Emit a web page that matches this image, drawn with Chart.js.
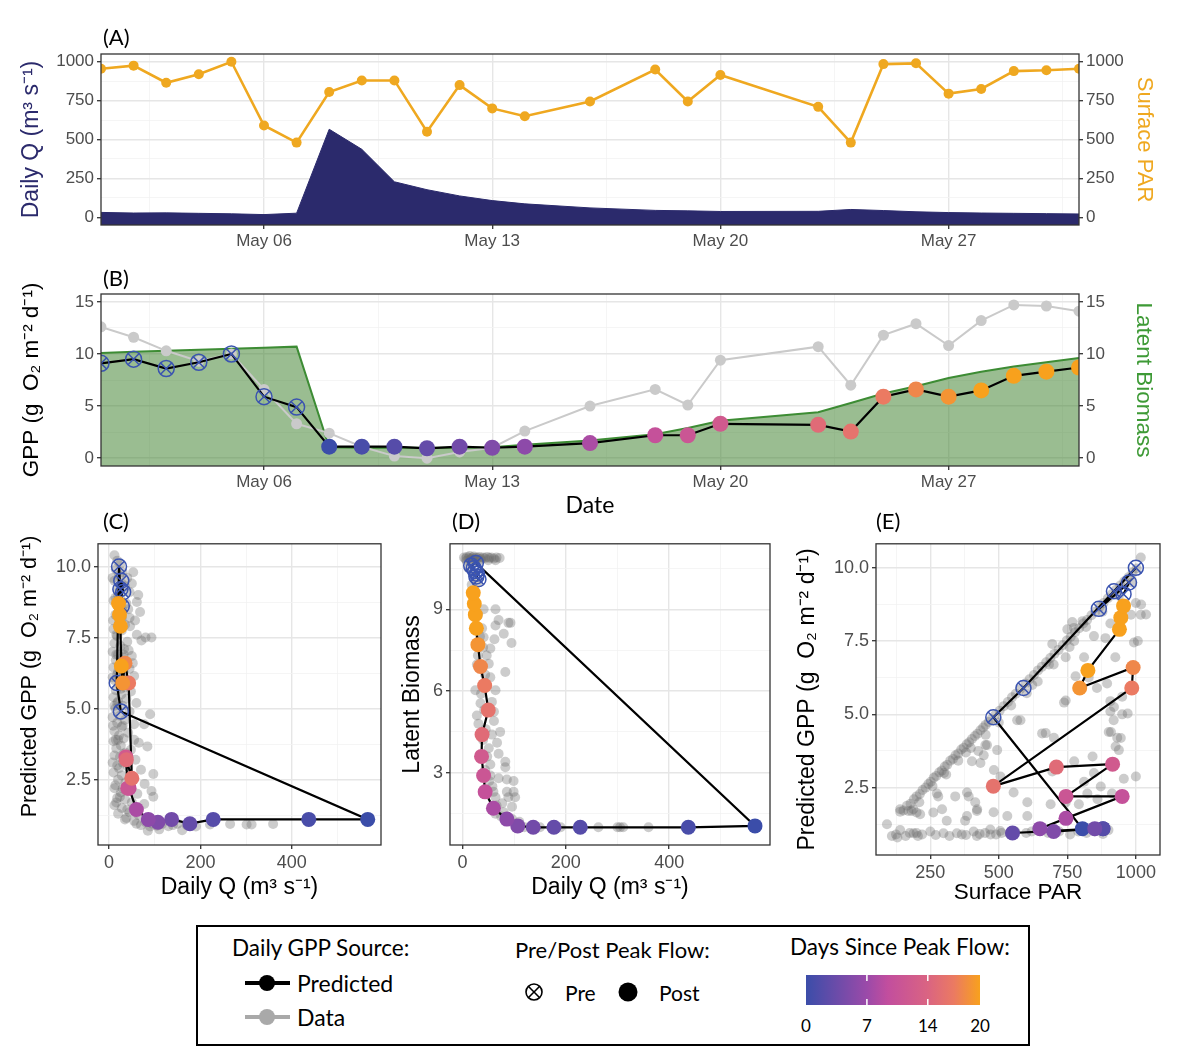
<!DOCTYPE html>
<html>
<head>
<meta charset="utf-8">
<script src="https://cdn.jsdelivr.net/npm/chart.js@4.4.1/dist/chart.umd.min.js"></script>
<style>
  html, body { margin:0; padding:0; background:#ffffff; }
  body { width:1200px; height:1061px; position:relative; overflow:hidden; }
  canvas { position:absolute; }
  .lbl { position:absolute; font-family:Lato, "Liberation Sans", sans-serif; color:#000; white-space:nowrap; transform:translateY(-50%); line-height:1; }
  .ctr { transform:translate(-50%,-50%); }
</style>
</head>
<body>
<canvas id="chartA" width="1200" height="240" style="left:0px;top:20px;"></canvas>
<canvas id="chartB" width="1200" height="250" style="left:0px;top:270px;"></canvas>
<canvas id="chartC" width="400" height="380" style="left:0px;top:530px;"></canvas>
<canvas id="chartD" width="400" height="380" style="left:395px;top:530px;"></canvas>
<canvas id="chartE" width="410" height="380" style="left:790px;top:530px;"></canvas>

<div class="lbl" style="left:103px;top:37px;font-size:22px;">(A)</div>
<div class="lbl" style="left:103px;top:278px;font-size:22px;">(B)</div>
<div class="lbl" style="left:103px;top:521px;font-size:22px;">(C)</div>
<div class="lbl" style="left:452px;top:521px;font-size:22px;">(D)</div>
<div class="lbl" style="left:876px;top:521px;font-size:22px;">(E)</div>

<div id="legendBox" style="position:absolute;left:196px;top:925px;width:834px;height:121px;box-sizing:border-box;border:2px solid #000;"></div>
<svg id="legendSvg" width="834" height="121" style="position:absolute;left:196px;top:925px;"></svg>
<div id="legendText"></div>

<script>
// ---------------- DATA ----------------
const dateTickDays   = [6, 13, 20, 27];
const dateTickLabels = ['May 06', 'May 13', 'May 20', 'May 27'];
const days           = [1,2,3,4,5,6,7,8,9,10,11,12,13,14,16,18,19,20,23,24,25,26,27,28,29,30,31];
const dailyQ         = [31,27,28,25,22,17,26,566,437,228,177,137,107,86,60,44,41,37,38,50,43,35,30,27,25,23,21];
const surfacePAR     = [955,975,865,920,1000,590,480,805,880,880,550,850,700,650,745,950,745,915,710,480,985,990,795,825,940,945,955];
const gppPredicted   = [9.1,9.5,8.6,9.2,10.0,5.9,4.9,1.1,1.1,1.1,0.95,1.1,1.0,1.1,1.45,2.2,2.2,3.3,3.2,2.55,5.9,6.6,5.9,6.5,7.9,8.3,8.7];
const gppData        = [12.6,11.6,10.3,9.3,10.0,6.6,3.3,2.4,1.1,0.2,0.0,0.6,1.0,2.6,5.0,6.6,5.1,9.4,10.7,7.0,11.8,12.9,10.8,13.2,14.7,14.6,14.1];
const latentBiomass  = [10.1,10.2,10.3,10.4,10.5,10.6,10.7,1.05,1.0,1.0,1.0,1.0,1.05,1.3,1.7,2.3,2.9,3.6,4.4,5.3,6.2,6.9,7.7,8.3,8.8,9.2,9.6];
const daysSincePeak  = [null,null,null,null,null,null,null,0,1,2,3,4,5,6,8,10,11,12,15,16,17,18,19,20,21,22,23];
const legendDayTicks = [0, 7, 14, 20];

// background data clouds (other records)
const cloudQGpp = [[12,10.4],[18,10.2],[25,10.1],[15,9.9],[30,9.8],[22,9.7],[40,9.6],[53,9.8],[12,9.5],[28,9.4],[35,9.3],[18,9.2],[45,9.1],[64,9.0],[25,8.9],[10,8.8],[61,8.75],[38,8.7],[20,8.6],[68,8.4],[30,8.45],[14,8.3],[45,8.2],[57,8.1],[22,8.0],[35,7.95],[46,7.9],[10,7.8],[28,7.75],[61,7.6],[18,7.55],[93,7.5],[80,7.5],[71,7.4],[40,7.35],[12,7.3],[25,7.2],[33,7.1],[43,7.05],[8,7.0],[20,6.9],[50,6.85],[30,6.8],[15,6.7],[38,6.6],[24,6.5],[10,6.45],[45,6.4],[32,6.3],[18,6.2],[55,6.15],[28,6.1],[12,6.0],[40,5.95],[22,5.85],[35,5.75],[15,5.65],[48,5.6],[27,5.5],[10,5.4],[38,5.35],[20,5.25],[60,5.2],[30,5.1],[14,5.0],[90,4.8],[45,4.9],[24,4.75],[8,4.7],[35,4.6],[18,4.5],[55,4.45],[77,4.45],[28,4.35],[12,4.2],[42,4.15],[22,4.05],[32,3.95],[10,3.85],[65,3.8],[84,3.67],[26,3.7],[16,3.6],[48,3.55],[36,3.45],[12,3.35],[24,3.3],[58,3.2],[30,3.1],[18,3.0],[42,2.95],[70,2.85],[97,2.7],[10,2.75],[28,2.65],[52,2.55],[20,2.5],[36,2.4],[78,2.35],[14,2.3],[44,2.2],[93,2.1],[26,2.05],[62,2.0],[97,1.9],[18,1.85],[35,1.8],[50,1.7],[77,1.64],[12,1.6],[28,1.5],[20,1.3],[45,1.35],[65,1.25],[38,1.15],[55,1.05],[80,1.0],[95,0.95],[116,0.94],[70,0.9],[105,0.88],[140,0.9],[170,0.9],[190,0.85],[221,0.92],[265,0.94],[301,0.92],[312,0.92],[359,0.94],[130,0.86],[90,0.85],[60,0.95],[150,0.95],[20,9.0],[28,8.2],[16,7.6],[32,6.9],[20,6.3],[26,5.7],[18,5.2],[30,4.4],[20,3.9],[32,3.4],[22,2.9],[30,2.2],[24,1.9],[40,1.45],[110,0.75],[160,0.72],[85,0.7],[8,9.6],[14,8.9],[9,8.1],[16,6.9],[8,6.1],[12,5.1],[9,4.4],[15,3.9],[8,3.1],[12,2.2],[16,1.7],[35,1.1],[48,2.6],[55,3.9],[52,6.6],[42,8.5],[50,9.4]];

const cloudQBiomass = [[3,10.9],[6,10.85],[9,10.92],[12,10.88],[14,10.95],[17,10.85],[19,10.9],[22,10.93],[24,10.86],[27,10.9],[30,10.88],[33,10.92],[36,10.85],[40,10.9],[44,10.87],[48,10.92],[52,10.88],[56,10.9],[61,10.86],[66,10.9],[72,10.88],[8,10.78],[15,10.8],[25,10.78],[35,10.8],[50,10.8],[64,10.8],[12,10.5],[20,10.3],[30,10.0],[18,9.9],[64,9.0],[41,9.0],[93,8.5],[70,8.6],[64,8.4],[89,8.5],[80,8.1],[62,7.9],[95,7.76],[54,7.56],[47,7.3],[41,7.97],[38,8.3],[83,6.7],[51,7.0],[28,6.97],[54,6.5],[25,6.03],[64,6.03],[35,5.55],[57,5.6],[28,5.1],[61,5.24],[31,4.8],[61,4.9],[57,4.4],[73,4.5],[67,4.1],[51,3.9],[70,3.7],[83,3.4],[54,3.3],[83,3.2],[54,2.9],[70,2.8],[86,2.75],[99,2.7],[58,2.5],[86,2.3],[99,2.3],[64,2.1],[89,2.1],[102,2.1],[77,1.88],[96,1.75],[64,1.5],[80,1.55],[96,1.3],[110,1.2],[30,8.8],[34,8.0],[40,7.6],[30,7.3],[44,6.6],[48,6.2],[36,5.9],[42,5.3],[45,4.6],[40,4.2],[48,3.6],[44,3.1],[52,2.7],[60,2.3],[66,1.8],[75,1.4],[120,1.0],[150,1.0],[190,1.0],[263,1.0],[300,1.0],[305,1.0],[311,1.0],[360,1.0]];

const cloudParGpp = [[140,1.68],[152,1.72],[165,1.88],[178,1.95],[190,2.1],[200,2.2],[212,2.28],[222,2.42],[233,2.5],[243,2.62],[252,2.7],[263,2.84],[272,2.9],[283,3.02],[292,3.08],[303,3.22],[312,3.28],[323,3.42],[333,3.48],[342,3.6],[352,3.66],[363,3.8],[372,3.86],[383,3.98],[392,4.05],[402,4.16],[413,4.26],[422,4.34],[433,4.46],[443,4.55],[452,4.64],[463,4.74],[472,4.82],[488,4.99],[503,5.12],[518,5.28],[533,5.42],[548,5.58],[562,5.7],[578,5.86],[597,6.05],[612,6.2],[628,6.34],[643,6.5],[657,6.62],[673,6.78],[688,6.92],[703,7.07],[718,7.2],[733,7.36],[748,7.52],[762,7.64],[778,7.8],[793,7.94],[808,8.1],[822,8.22],[838,8.38],[852,8.5],[868,8.67],[882,8.8],[898,8.96],[912,9.1],[928,9.25],[943,9.4],[958,9.54],[973,9.68],[988,9.84],[1003,9.98],[1018,10.35],
[258,2.55],[308,2.95],[352,3.42],[398,3.85],[425,3.75],[452,4.3],[500,4.72],[545,5.3],[602,5.72],[642,6.12],[700,6.7],[758,7.3],[818,7.98],[878,8.5],[938,9.05],[985,9.5],[210,2.0],[170,1.7],[300,3.0],[380,3.7],
[92,1.25],[110,0.85],[125,0.9],[140,1.05],[160,0.85],[175,0.95],[189,0.94],[205,0.85],[220,0.9],[250,1.0],[270,0.88],[298,0.94],[320,0.85],[347,0.94],[365,0.9],[380,0.88],[408,1.0],[430,0.92],[450,0.95],[469,1.07],[490,0.9],[510,0.95],[540,0.92],[560,1.0],[600,0.95],[620,1.0],[640,1.05],[680,0.95],[720,1.0],[760,0.9],[790,1.0],[820,0.95],[850,1.0],[880,0.92],[900,1.05],[130,0.8],[200,0.95],[420,0.85],[470,0.9],[505,1.02],
[140,1.76],[182,1.7],[200,1.65],[261,1.65],[310,1.37],[377,1.37],[420,1.7],[414,2.0],[390,2.2],[341,2.2],[274,2.3],[402,3.4],[445,3.6],[482,3.1],[451,3.95],[567,4.8],[658,4.35],[701,4.2],[738,5.4],[695,3.05],[775,3.4],[811,2.7],[823,2.3],[860,2.1],[913,2.3],[932,4.2],[926,3.9],[901,4.4],[919,4.8],[950,5.0],[956,2.8],[907,5.1],[907,5.45],[950,5.6],[993,7.45],[1000,8.8],[1018,8.4],[982,8.4],[907,8.1],[889,7.6],[925,6.95],[895,6.05],[858,5.9],[780,6.3],[811,6.95],[744,6.95],[683,6.7],[775,7.5],[750,7.9],[768,8.15],[695,7.4],[622,6.0],[1037,8.41],[1019,8.75],[1007,7.5],[970,5.03],[945,4.19],[938,3.78],[1000,2.88],[909,4.4],[920,5.25],[828,6.26],[847,7.67],[805,8.18],[774,7.95],[744,5.47],[671,4.36],[579,4.8],[457,3.95],[494,3.78],[433,3.34],[506,2.88],[554,2.33],[604,2.0],[689,1.93],[744,1.99],[792,1.93],[872,2.54],[847,3.0],[842,3.56],[384,2.33],[421,1.76],[481,1.66],[531,1.53],[604,1.53],[384,1.53],[293,1.76],[213,1.59],[279,2.2],[188,1.76]];

// ---------------- STYLE ----------------
const FONT = "'Liberation Sans', Arial, sans-serif";
const LEG_FONT = "Lato, 'Liberation Sans', sans-serif";
const MAJOR_GRID = '#E6E6E6', MINOR_GRID = '#F3F3F3';
const NAVY = '#2B2A6C', PAR_COL = '#EFA820', GREEN = '#3D8C34', GREEN_FILL = 'rgba(62,128,44,0.52)';
const DATA_GRAY = '#CACACA', PRE_BLUE = '#3B54B0', CLOUD = 'rgba(105,105,105,0.34)';
const gradStops = [[0,'#3B4DA9'],[0.35,'#9B4AA9'],[0.47,'#C24E9E'],[0.7,'#DA6482'],[0.85,'#EB7A62'],[1,'#F8A11D']];
const DAY_MAX = 20;

function hexToRgb(h){ return [parseInt(h.slice(1,3),16), parseInt(h.slice(3,5),16), parseInt(h.slice(5,7),16)]; }
function gradColor(t){
  t = Math.max(0, Math.min(1, t));
  for (let i = 1; i < gradStops.length; i++) {
    const [t0, c0] = gradStops[i-1], [t1, c1] = gradStops[i];
    if (t <= t1) {
      const f = (t - t0) / (t1 - t0), a = hexToRgb(c0), b = hexToRgb(c1);
      return 'rgb(' + a.map((v,k) => Math.round(v + (b[k]-v)*f)).join(',') + ')';
    }
  }
  return gradStops[gradStops.length-1][1];
}

Chart.defaults.font.family = FONT;
Chart.defaults.animation = false;

function tickList(major, minor){
  return major.map(v => ({value:v})).concat(minor.map(v => ({value:v, minor:true}))).sort((a,b) => a.value - b.value);
}
function makeAxis(o){
  return {
    type:'linear', position:o.position, min:o.min, max:o.max,
    afterBuildTicks: s => { s.ticks = tickList(o.major, o.minor || []); },
    afterFit: s => { if (o.size != null) { if (s.isHorizontal()) s.height = o.size; else s.width = o.size; } },
    grid: {
      display:true, drawOnChartArea: o.gridOn !== false, drawTicks:true, tickLength:4,
      color: c => (c.tick && c.tick.minor) ? MINOR_GRID : MAJOR_GRID,
      lineWidth: c => (c.tick && c.tick.minor) ? 0.8 : 1.4,
      tickColor: c => (c.tick && c.tick.minor) ? 'rgba(0,0,0,0)' : '#333333',
      tickWidth: 1.3
    },
    border: { display:false },
    ticks: {
      autoSkip:false, maxRotation:0, minRotation:0, padding: (o.tickPad != null ? o.tickPad : 3),
      color:'#4D4D4D', font:{ family:FONT, size:o.tickSize || 17 },
      callback: (v, i, t) => { if (t[i] && t[i].minor) return ''; const k = o.major.indexOf(v); return o.labels ? o.labels[k] : String(v); }
    },
    title: {
      display: !!o.title, text: o.title, color: o.titleColor || '#000',
      font: { family: o.titleFont || FONT, size: o.titleSize || 22 },
      padding: { top: o.titlePad || 0, bottom: o.titlePad || 0 }
    }
  };
}
const borderPlugin = {
  id:'panelBorder',
  afterDraw(chart){
    const {ctx, chartArea:a} = chart;
    ctx.save(); ctx.strokeStyle = '#333333'; ctx.lineWidth = 1.3;
    ctx.strokeRect(a.left, a.top, a.right - a.left, a.bottom - a.top);
    ctx.restore();
  }
};
const baseOpts = (padding, scales) => ({
  responsive:false, maintainAspectRatio:false, devicePixelRatio:1, animation:false, events:[],
  layout:{ padding },
  plugins:{ legend:{display:false}, tooltip:{enabled:false} },
  scales
});

const preIdx  = days.map((d,i) => i).filter(i => daysSincePeak[i] === null);
const postIdx = days.map((d,i) => i).filter(i => daysSincePeak[i] !== null);
const postColors = postIdx.map(i => gradColor(daysSincePeak[i] / DAY_MAX));
const pts = (xs, ys, idx) => idx.map(i => ({x:xs[i], y:ys[i]}));
const allIdx = days.map((d,i) => i);

function markerSets(xs, ys, r, yAxisID){
  const y = yAxisID || 'y';
  return [
    { label:'Post', data:pts(xs, ys, postIdx), yAxisID:y, showLine:false, pointStyle:'circle', pointRadius:r,
      pointBackgroundColor:postColors, pointBorderColor:postColors, pointBorderWidth:0, order:0 },
    { label:'Pre ring', data:pts(xs, ys, preIdx), yAxisID:y, showLine:false, pointStyle:'circle', pointRadius:r,
      pointBackgroundColor:'rgba(0,0,0,0)', pointBorderColor:PRE_BLUE, pointBorderWidth:1.5, order:1 },
    { label:'Pre cross', data:pts(xs, ys, preIdx), yAxisID:y, showLine:false, pointStyle:'crossRot', pointRadius:r,
      pointBackgroundColor:'rgba(0,0,0,0)', pointBorderColor:PRE_BLUE, pointBorderWidth:1.5, order:1 },
    { label:'Predicted', data:pts(xs, ys, allIdx), yAxisID:y, showLine:true, borderColor:'#000', borderWidth:2.2,
      pointRadius:0, fill:false, order:2 }
  ];
}

// ---------------- PANEL A ----------------
new Chart(document.getElementById('chartA'), {
  type:'line',
  data:{ datasets:[
    { label:'Surface PAR', data:pts(days, surfacePAR, allIdx), yAxisID:'y', borderColor:PAR_COL, borderWidth:2.6,
      pointRadius:5, pointBackgroundColor:PAR_COL, pointBorderWidth:0, fill:false, order:0 },
    { label:'Daily Q', data:pts(days, dailyQ, allIdx), yAxisID:'y', borderColor:NAVY, borderWidth:1,
      backgroundColor:NAVY, pointRadius:0, fill:'start', order:1 }
  ]},
  options: baseOpts({top:34, left:0, right:0, bottom:0}, {
    x: makeAxis({position:'bottom', min:1, max:31, major:dateTickDays, minor:[2.5,9.5,16.5,23.5,30.5], labels:dateTickLabels, size:35, tickPad:2}),
    y: makeAxis({position:'left', min:-50, max:1050, major:[0,250,500,750,1000], minor:[125,375,625,875], size:101,
                 title:'Daily Q (m\u00B3 s\u207B\u00B9)', titleColor:NAVY, titleSize:23, titlePad:18}),
    y2: makeAxis({position:'right', min:-50, max:1050, major:[0,250,500,750,1000], minor:[], size:121, gridOn:false,
                 title:'Surface PAR', titleColor:PAR_COL, titleSize:22, titlePad:43})
  }),
  plugins:[borderPlugin]
});

// ---------------- PANEL B ----------------
new Chart(document.getElementById('chartB'), {
  type:'line',
  data:{ datasets: markerSets(days, gppPredicted, 8).concat([
    { label:'Data', data:pts(days, gppData, allIdx), yAxisID:'y', borderColor:DATA_GRAY, borderWidth:2,
      pointRadius:5.5, pointBackgroundColor:DATA_GRAY, pointBorderWidth:0, fill:false, order:3 },
    { label:'Latent Biomass', data:pts(days, latentBiomass, allIdx), yAxisID:'y2', borderColor:GREEN, borderWidth:2,
      backgroundColor:GREEN_FILL, pointRadius:0, fill:'start', order:4 }
  ])},
  options: baseOpts({top:24, left:0, right:0, bottom:0}, {
    x: makeAxis({position:'bottom', min:1, max:31, major:dateTickDays, minor:[2.5,9.5,16.5,23.5,30.5], labels:dateTickLabels, size:54, tickPad:2,
                 title:'Date', titleFont:LEG_FONT, titleSize:23, titlePad:0.5}),
    y: makeAxis({position:'left', min:-0.75, max:15.75, major:[0,5,10,15], minor:[2.5,7.5,12.5], size:101,
                 title:'GPP (g  O\u2082 m\u207B\u00B2 d\u207B\u00B9)', titleSize:22.5, titlePad:18}),
    y2: makeAxis({position:'right', min:-0.75, max:15.75, major:[0,5,10,15], minor:[], size:121, gridOn:false,
                 title:'Latent Biomass', titleColor:'#3E9A36', titleSize:22.5, titlePad:43})
  }),
  plugins:[borderPlugin]
});

// ---------------- PANELS C, D, E ----------------
function scatterPanel(id, xs, ys, cloud, pad, xAxis, yAxis){
  new Chart(document.getElementById(id), {
    type:'line',
    data:{ datasets: markerSets(xs, ys, 7.5).concat([
      { label:'Other records', data:cloud.map(p => ({x:p[0], y:p[1]})), showLine:false, pointRadius:5,
        pointBackgroundColor:CLOUD, pointBorderWidth:0, order:3 }
    ])},
    options: baseOpts(pad, { x: makeAxis(xAxis), y: makeAxis(yAxis) }),
    plugins:[borderPlugin]
  });
}
const gppTitle = 'Predicted GPP (g  O\u2082 m\u207B\u00B2 d\u207B\u00B9)';
const qTitle = 'Daily Q (m\u00B3 s\u207B\u00B9)';

scatterPanel('chartC', dailyQ, gppPredicted, cloudQGpp, {top:11, left:0, right:19, bottom:0},
  {position:'bottom', min:-24, max:595, major:[0,200,400], minor:[100,300,500], size:65, tickSize:18, title:qTitle, titleSize:23, titlePad:8.5},
  {position:'left', min:0.2, max:10.8, major:[2.5,5,7.5,10], minor:[1.25,3.75,6.25,8.75], labels:['2.5','5.0','7.5','10.0'], size:98, tickSize:18,
   title:'\u00A0\u00A0\u00A0\u00A0\u00A0\u00A0' + gppTitle, titleSize:21.5, titlePad:17.4});

scatterPanel('chartD', dailyQ, latentBiomass, cloudQBiomass, {top:11, left:0, right:25, bottom:0},
  {position:'bottom', min:-24, max:595, major:[0,200,400], minor:[100,300,500], size:65, tickSize:18, title:qTitle, titleSize:23, titlePad:8.5},
  {position:'left', min:0.35, max:11.4, major:[3,6,9], minor:[1.5,4.5,7.5,10.5], size:55, tickSize:18, title:'Latent Biomass', titleSize:23, titlePad:4});

scatterPanel('chartE', surfacePAR, gppPredicted, cloudParGpp, {top:11, left:0, right:40, bottom:0},
  {position:'bottom', min:52, max:1088, major:[250,500,750,1000], minor:[125,375,625,875], size:55, tickSize:18, title:'Surface PAR', titleSize:22.5, titlePad:4},
  {position:'left', min:0.2, max:10.82, major:[2.5,5,7.5,10], minor:[1.25,3.75,6.25,8.75], labels:['2.5','5.0','7.5','10.0'], size:86, tickSize:18, title:gppTitle, titleSize:23, titlePad:4});

// ---------------- LEGEND ----------------
(function(){
  const ox = 196, oy = 925;
  const svg = document.getElementById('legendSvg');
  const NS = 'http://www.w3.org/2000/svg';
  function el(tag, attrs){ const e = document.createElementNS(NS, tag); for (const k in attrs) e.setAttribute(k, attrs[k]); svg.appendChild(e); return e; }
  el('line', {x1:245-ox, y1:983-oy, x2:290-ox, y2:983-oy, stroke:'#000', 'stroke-width':4});
  el('circle', {cx:267-ox, cy:983-oy, r:8, fill:'#000'});
  el('line', {x1:245-ox, y1:1017-oy, x2:290-ox, y2:1017-oy, stroke:'#A9A9A9', 'stroke-width':4});
  el('circle', {cx:267-ox, cy:1017-oy, r:8, fill:'#A9A9A9'});
  el('circle', {cx:534-ox, cy:992-oy, r:8, fill:'none', stroke:'#000', 'stroke-width':1.6});
  el('line', {x1:534-ox-5.7, y1:992-oy-5.7, x2:534-ox+5.7, y2:992-oy+5.7, stroke:'#000', 'stroke-width':1.6});
  el('line', {x1:534-ox-5.7, y1:992-oy+5.7, x2:534-ox+5.7, y2:992-oy-5.7, stroke:'#000', 'stroke-width':1.6});
  el('circle', {cx:628-ox, cy:992-oy, r:9.5, fill:'#000'});
  const barL = 806, barW = 174, barT = 975, barH = 30;
  const defs = el('defs', {});
  const lg = document.createElementNS(NS, 'linearGradient');
  lg.setAttribute('id', 'dayGrad'); lg.setAttribute('x1','0'); lg.setAttribute('x2','1'); lg.setAttribute('y1','0'); lg.setAttribute('y2','0');
  gradStops.forEach(s => { const st = document.createElementNS(NS, 'stop'); st.setAttribute('offset', s[0]); st.setAttribute('stop-color', s[1]); lg.appendChild(st); });
  defs.appendChild(lg);
  el('rect', {x:barL-ox, y:barT-oy, width:barW, height:barH, fill:'url(#dayGrad)'});
  const txt = document.getElementById('legendText');
  function text(s, left, cy, size, centered){
    const d = document.createElement('div');
    d.className = 'lbl' + (centered ? ' ctr' : '');
    d.style.left = left + 'px'; d.style.top = cy + 'px'; d.style.fontSize = size + 'px';
    d.textContent = s; txt.appendChild(d);
  }
  legendDayTicks.forEach(v => {
    const x = barL + v / DAY_MAX * barW;
    if (v > 0 && v < DAY_MAX) {
      el('line', {x1:x-ox, y1:barT-oy, x2:x-ox, y2:barT-oy+6, stroke:'#fff', 'stroke-width':1.5});
      el('line', {x1:x-ox, y1:barT+barH-oy-6, x2:x-ox, y2:barT+barH-oy, stroke:'#fff', 'stroke-width':1.5});
    }
    text(String(v), x, 1025, 17, true);
  });
  text('Daily GPP Source:', 232, 948, 22.5);
  text('Predicted', 297, 983, 23);
  text('Data', 297, 1017, 23);
  text('Pre/Post Peak Flow:', 515, 950, 22);
  text('Pre', 565, 992, 21);
  text('Post', 659, 992, 21);
  text('Days Since Peak Flow:', 790, 947, 22.5);
})();
</script>
</body>
</html>
